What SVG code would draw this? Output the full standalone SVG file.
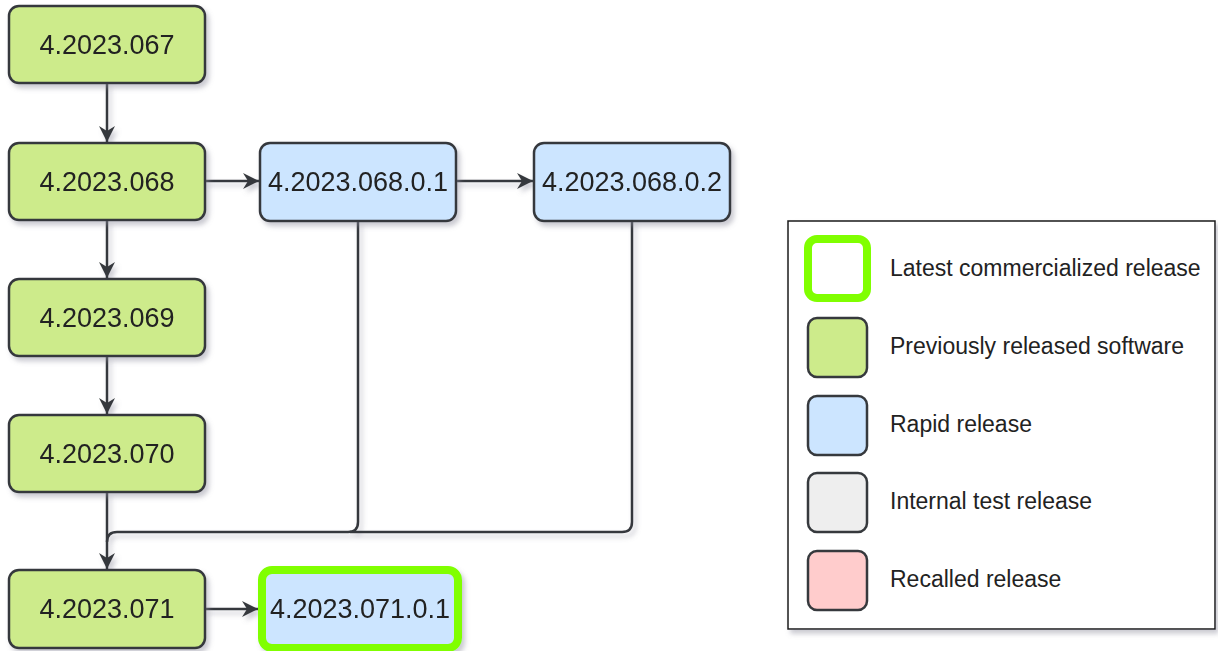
<svg xmlns="http://www.w3.org/2000/svg" width="1218" height="651" viewBox="0 0 1218 651">
<style>
.n{stroke:#36393d;stroke-width:2.5}
.g{fill:#cdeb8b}
.b{fill:#cce5ff}
.gr{fill:#eeeeee}
.p{fill:#ffcccc}
.lt{stroke:#80ff00;stroke-width:8}
.t{font-family:"Liberation Sans",Arial,sans-serif;font-size:27px;fill:#222222;text-anchor:middle;dominant-baseline:central}
.lg{font-family:"Liberation Sans",Arial,sans-serif;font-size:23px;fill:#222222;dominant-baseline:central}
.c{fill:none;stroke:#36393d;stroke-width:2.5}
</style>
<defs>
<filter id="sh" x="-10%" y="-10%" width="130%" height="140%">
<feDropShadow dx="3" dy="4" stdDeviation="2.5" flood-color="#8a8a9a" flood-opacity="0.45"/>
</filter>
<marker id="ah" markerWidth="18" markerHeight="16" refX="16" refY="8" orient="auto" markerUnits="userSpaceOnUse">
<path d="M0,0 L16,8 L0,16 L5,8 Z" fill="#36393d"/>
</marker>
</defs>
<g id="connectors" filter="url(#sh)">
<path class="c" d="M107,83 V142" marker-end="url(#ah)"/>
<path class="c" d="M107,220 V278" marker-end="url(#ah)"/>
<path class="c" d="M107,356 V414" marker-end="url(#ah)"/>
<path class="c" d="M107,492 V569" marker-end="url(#ah)"/>
<path class="c" d="M358,221 V522 Q358,532 348,532 H117 Q107,532 107,542"/>
<path class="c" d="M632,221 V522 Q632,532 622,532 H350"/>
<path class="c" d="M205,181 H259" marker-end="url(#ah)"/>
<path class="c" d="M456,181 H533" marker-end="url(#ah)"/>
<path class="c" d="M205,609 H258" marker-end="url(#ah)"/>
</g>
<g id="n067" filter="url(#sh)"><rect class="n g" x="9" y="6" width="196" height="77" rx="10"/><text class="t" x="107" y="45">4.2023.067</text></g>
<g id="n068" filter="url(#sh)"><rect class="n g" x="9" y="143" width="196" height="77" rx="10"/><text class="t" x="107" y="182">4.2023.068</text></g>
<g id="n069" filter="url(#sh)"><rect class="n g" x="9" y="279" width="196" height="77" rx="10"/><text class="t" x="107" y="318">4.2023.069</text></g>
<g id="n070" filter="url(#sh)"><rect class="n g" x="9" y="415" width="196" height="77" rx="10"/><text class="t" x="107" y="454">4.2023.070</text></g>
<g id="n071" filter="url(#sh)"><rect class="n g" x="9" y="570" width="196" height="78" rx="10"/><text class="t" x="107" y="609">4.2023.071</text></g>
<g id="n068_01" filter="url(#sh)"><rect class="n b" x="260" y="143" width="196" height="78" rx="10"/><text class="t" x="358" y="182">4.2023.068.0.1</text></g>
<g id="n068_02" filter="url(#sh)"><rect class="n b" x="534" y="143" width="196" height="78" rx="10"/><text class="t" x="632" y="182">4.2023.068.0.2</text></g>
<g id="n071_01" filter="url(#sh)"><rect class="b lt" x="262" y="570" width="196" height="78" rx="10"/><text class="t" x="360" y="609">4.2023.071.0.1</text></g>
<g id="legend">
<rect x="788" y="221" width="427" height="408" fill="#ffffff" stroke="#1a1a1a" stroke-width="1.5" filter="url(#sh)"/>
<rect x="808" y="239" width="59" height="59" rx="9" fill="#ffffff" class="lt"/>
<text class="lg" x="890" y="268">Latest commercialized release</text>
<rect class="n g" x="808" y="318" width="59" height="59" rx="9"/>
<text class="lg" x="890" y="346">Previously released software</text>
<rect class="n b" x="808" y="396" width="59" height="59" rx="9"/>
<text class="lg" x="890" y="424">Rapid release</text>
<rect class="n gr" x="808" y="473" width="59" height="59" rx="9"/>
<text class="lg" x="890" y="501">Internal test release</text>
<rect class="n p" x="808" y="551" width="59" height="59" rx="9"/>
<text class="lg" x="890" y="579">Recalled release</text>
</g>
</svg>
